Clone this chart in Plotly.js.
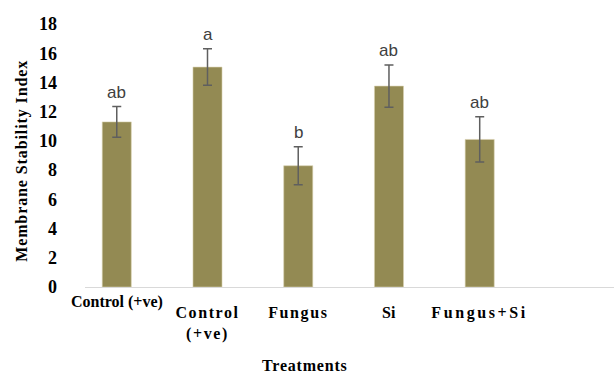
<!DOCTYPE html>
<html>
<head>
<meta charset="utf-8">
<script src="https://cdn.plot.ly/plotly-3.0.1.min.js"></script>
<style>
html,body{margin:0;padding:0;background:#fff;}
#chart{width:614px;height:375px;}
#chart .annotation[data-index="6"] text,
#chart .annotation[data-index="7"] text{letter-spacing:1.6px;}
#chart .annotation[data-index="9"] text{letter-spacing:2.6px;}
#chart .annotation[data-index="10"] text{letter-spacing:0.8px;}
#chart .annotation[data-index="11"] text{letter-spacing:0.9px;}
</style>
</head>
<body>
<div id="chart"></div>
<script>
const categories = ["Control (+ve)", "Control<br>(+ve)", "Fungus", "Si", "Fungus+Si"];
const values = [11.3, 15.05, 8.3, 13.75, 10.1];
const errors = [1.05, 1.25, 1.3, 1.45, 1.55];
const letters = ["ab", "a", "b", "ab", "ab"];
const yTicks = [0, 2, 4, 6, 8, 10, 12, 14, 16, 18];
const labelShift = [-4, -15, -15, -15, -15];

const xs = categories.map((c, i) => i);
const serif = "Liberation Serif, Times New Roman, serif";

const trace = {
  type: "bar",
  x: xs,
  y: values,
  width: 0.32,
  marker: {color: "#938A53", line: {color: "#d8d2b0", width: 0.6}},
  error_y: {type: "data", array: errors, visible: true, color: "#5f5f5f", thickness: 1.5, width: 4.5},
  hoverinfo: "none"
};

const annotations = [];
letters.forEach((t, i) => {
  annotations.push({x: xs[i], y: values[i] + errors[i], xref: "x", yref: "y", text: t,
    showarrow: false, yanchor: "bottom", yshift: 3,
    font: {family: "Liberation Sans, Arial, sans-serif", size: 17, color: "#404040"}});
});
categories.forEach((t, i) => {
  annotations.push({x: xs[i], y: 0, xref: "x", yref: "paper", text: "<b>" + t + "</b>",
    showarrow: false, yanchor: "top", yshift: labelShift[i],
    font: {family: serif, size: 16, color: "#000"}});
});
annotations.push({x: 0.416, y: -0.297, xref: "paper", yref: "paper", text: "<b>Treatments</b>",
  showarrow: false, xanchor: "center", yanchor: "middle", font: {family: serif, size: 16, color: "#000"}});
annotations.push({x: -0.119, y: 0.479, xref: "paper", yref: "paper", text: "<b>Membrane Stability Index</b>",
  showarrow: false, textangle: -90, xanchor: "center", yanchor: "middle", font: {family: serif, size: 16, color: "#000"}});

const layout = {
  width: 614, height: 375,
  margin: {l: 85, r: 0, t: 24, b: 88},
  paper_bgcolor: "#fff", plot_bgcolor: "#fff",
  showlegend: false,
  xaxis: {range: [-0.35, 5.48], showticklabels: false, showgrid: false, zeroline: false,
    showline: true, linecolor: "#d9d9d9", linewidth: 1, ticks: "", fixedrange: true},
  yaxis: {range: [0, 18], tickvals: yTicks, ticktext: yTicks.map(v => "<b>" + v + "</b>"),
    showgrid: false, zeroline: false, showline: false, ticks: "", ticklabelstandoff: 27,
    tickfont: {family: serif, size: 18, color: "#000"}, fixedrange: true},
  annotations: annotations
};

Plotly.newPlot("chart", [trace], layout, {displayModeBar: false, staticPlot: true});
</script>
</body>
</html>
